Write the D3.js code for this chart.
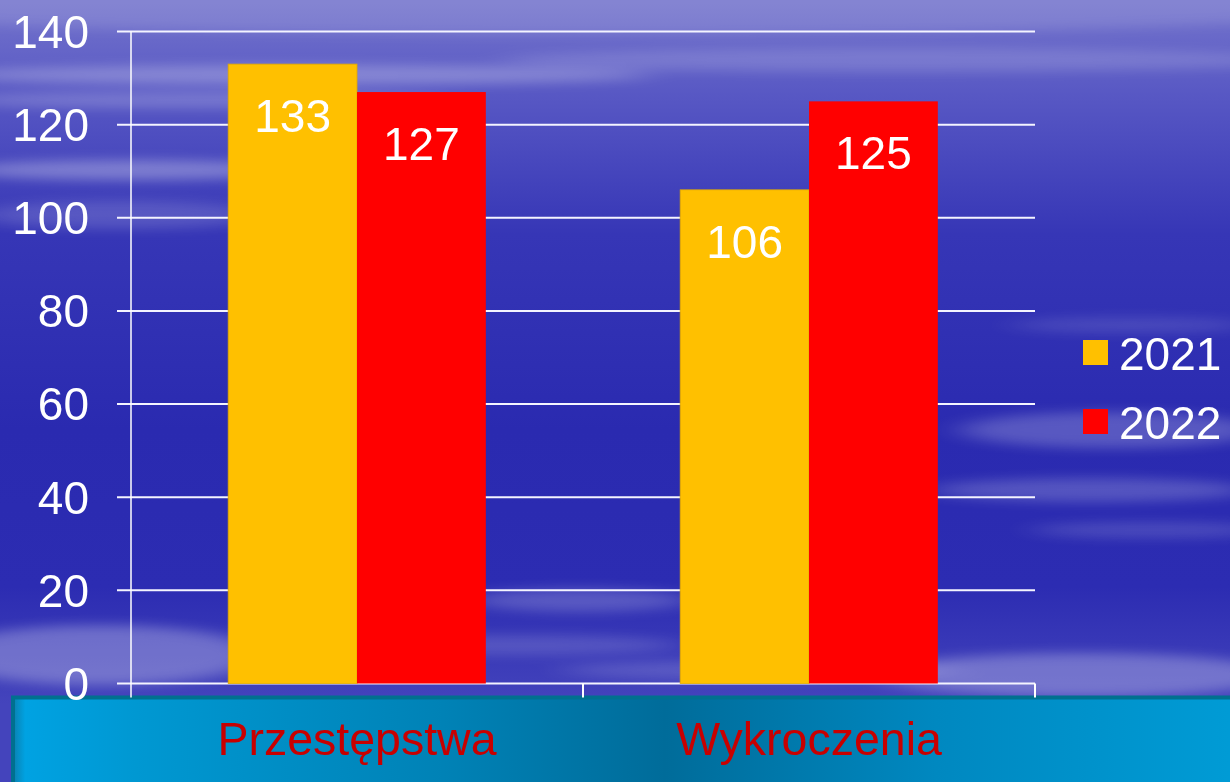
<!DOCTYPE html>
<html>
<head>
<meta charset="utf-8">
<script src="https://cdnjs.cloudflare.com/ajax/libs/d3/7.8.5/d3.min.js"></script>
<style>
  html, body { margin: 0; padding: 0; background: #2a2ab0; }
  svg { display: block; font-family: "Liberation Sans", Arial, sans-serif; }
</style>
</head>
<body>
<svg></svg>
<script>
const size = { w: 1230, h: 782 };
const margin = { t: 31.5, r: 195, b: 98.5, l: 131 };

// data
const categories = ["Przestępstwa", "Wykroczenia"];
const years = ["2021", "2022"];
const values2021 = [133, 106];
const values2022 = [127, 125];
const yTicks = [0, 20, 40, 60, 80, 100, 120, 140];
const colors = ["#ffc000", "#ff0000"];

const series = [values2021, values2022];

// background wisps (just decoration) : [cx, cy, rx, ry, opacity]
const wisps = [
	[600, 5, 800, 30, 0.12],
	[300, 75, 350, 10, 0.25],
	[200, 100, 250, 8, 0.2],
	[900, 60, 400, 12, 0.15],
	[130, 170, 170, 10, 0.3],
	[120, 215, 140, 14, 0.15],
	[1130, 325, 120, 8, 0.12],
	[1110, 430, 150, 18, 0.22],
	[1090, 490, 160, 12, 0.2],
	[1150, 530, 120, 8, 0.15],
	[100, 655, 160, 30, 0.28],
	[580, 600, 110, 12, 0.2],
	[520, 645, 160, 10, 0.15],
	[1080, 675, 200, 22, 0.28],
	[760, 670, 200, 10, 0.15],
];

const svg = d3.select("svg").attr("width", size.w).attr("height", size.h);
const defs = svg.append("defs");

let bg = defs.append("linearGradient").attr("id", "bg").attr("x1", 0).attr("y1", 0).attr("x2", 0).attr("y2", 1);
bg.append("stop").attr("offset", "0%").attr("stop-color", "#7474cc");
bg.append("stop").attr("offset", "12%").attr("stop-color", "#5858c4");
bg.append("stop").attr("offset", "30%").attr("stop-color", "#3636b6");
bg.append("stop").attr("offset", "55%").attr("stop-color", "#2a2ab0");
bg.append("stop").attr("offset", "75%").attr("stop-color", "#2c2cb2");
bg.append("stop").attr("offset", "90%").attr("stop-color", "#4444bc");

let band = defs.append("linearGradient").attr("id", "band").attr("x1", 0).attr("y1", 0).attr("x2", 1).attr("y2", 0);
band.append("stop").attr("offset", "0%").attr("stop-color", "#0a80b0");
band.append("stop").attr("offset", "1%").attr("stop-color", "#00a2e2");
band.append("stop").attr("offset", "10%").attr("stop-color", "#0098d2");
band.append("stop").attr("offset", "35%").attr("stop-color", "#0082b6");
band.append("stop").attr("offset", "53%").attr("stop-color", "#006c9a");
band.append("stop").attr("offset", "75%").attr("stop-color", "#0088c0");
band.append("stop").attr("offset", "100%").attr("stop-color", "#009cd6");

defs.append("filter").attr("id", "blur").attr("x", "-50%").attr("y", "-200%").attr("width", "200%").attr("height", "500%")
	.append("feGaussianBlur").attr("stdDeviation", "18 6");

svg.append("rect").attr("width", size.w).attr("height", size.h).attr("fill", "url(#bg)");
svg.append("g").attr("filter", "url(#blur)")
	.selectAll("ellipse").data(wisps).join("ellipse")
	.attr("cx", (d) => d[0]).attr("cy", (d) => d[1])
	.attr("rx", (d) => d[2]).attr("ry", (d) => d[3])
	.attr("fill", "#ffffff").attr("opacity", (d) => d[4]);

// scales
const x = d3.scaleBand().domain(categories).range([margin.l, size.w - margin.r]).paddingInner(0.43).paddingOuter(0.215);
const xOuter = d3.scaleBand().domain(categories).range([margin.l, size.w - margin.r]);
const xInner = d3.scaleBand().domain(years).range([0, x.bandwidth()]);
const y = d3.scaleLinear().domain([0, 140]).range([size.h - margin.b, margin.t]);

// bottom band with category names
svg.append("rect")
	.attr("x", 13).attr("y", 697.5).attr("width", size.w).attr("height", 90)
	.attr("fill", "url(#band)").attr("stroke", "#00708f").attr("stroke-width", 4);

svg.append("g").selectAll("text").data(categories).join("text")
	.attr("x", (d) => xOuter(d) + xOuter.bandwidth() / 2)
	.attr("y", 755)
	.attr("text-anchor", "middle")
	.attr("fill", "#c80000").attr("font-size", 46.5)
	.text((d) => d);

// gridlines + y ticks
const grid = svg.append("g");
grid.selectAll("line").data(yTicks).join("line")
	.attr("x1", margin.l - 14).attr("x2", size.w - margin.r)
	.attr("y1", (d) => y(d)).attr("y2", (d) => y(d))
	.attr("stroke", "#f4f4ff").attr("stroke-width", 2);
svg.append("line")
	.attr("x1", margin.l).attr("x2", margin.l)
	.attr("y1", margin.t).attr("y2", y(0) + 14)
	.attr("stroke", "#ffffff").attr("stroke-width", 1.5);
// category boundary ticks
svg.append("g").selectAll("line").data(categories).join("line")
	.attr("x1", (d) => xOuter(d) + xOuter.bandwidth()).attr("x2", (d) => xOuter(d) + xOuter.bandwidth())
	.attr("y1", y(0)).attr("y2", y(0) + 14)
	.attr("stroke", "#ffffff").attr("stroke-width", 2);

svg.append("g").selectAll("text").data(yTicks).join("text")
	.attr("x", 89).attr("y", (d) => y(d))
	.attr("dy", "0.355em")
	.attr("text-anchor", "end")
	.attr("fill", "#ffffff").attr("font-size", 46)
	.text((d) => d);

// bars
const groups = svg.append("g").selectAll("g").data(categories).join("g")
	.attr("transform", (d) => `translate(${x(d)},0)`);

groups.selectAll("rect")
	.data((d, i) => years.map((yr, j) => ({ yr, j, v: series[j][i] })))
	.join("rect")
	.attr("x", (d) => xInner(d.yr))
	.attr("width", xInner.bandwidth())
	.attr("y", (d) => y(d.v))
	.attr("height", (d) => y(0) - y(d.v))
	.attr("fill", (d) => colors[d.j])
	.attr("stroke", (d) => (d.j === 0 ? "#e0a800" : "none"))
	.attr("stroke-width", 0.8);

groups.selectAll("text")
	.data((d, i) => years.map((yr, j) => ({ yr, j, v: series[j][i] })))
	.join("text")
	.attr("x", (d) => xInner(d.yr) + xInner.bandwidth() / 2)
	.attr("y", (d) => y(d.v) + 68)
	.attr("text-anchor", "middle")
	.attr("fill", "#ffffff").attr("font-size", 46)
	.text((d) => d.v);

// legend
const legend = svg.append("g").attr("transform", "translate(1083,340)");
const li = legend.selectAll("g").data(years).join("g")
	.attr("transform", (d, i) => `translate(0,${i * 69})`);
li.append("rect").attr("width", 25).attr("height", 25).attr("fill", (d, i) => colors[i]);
li.append("text").attr("x", 36).attr("y", 30)
	.attr("fill", "#ffffff").attr("font-size", 46).text((d) => d);
</script>
</body>
</html>
